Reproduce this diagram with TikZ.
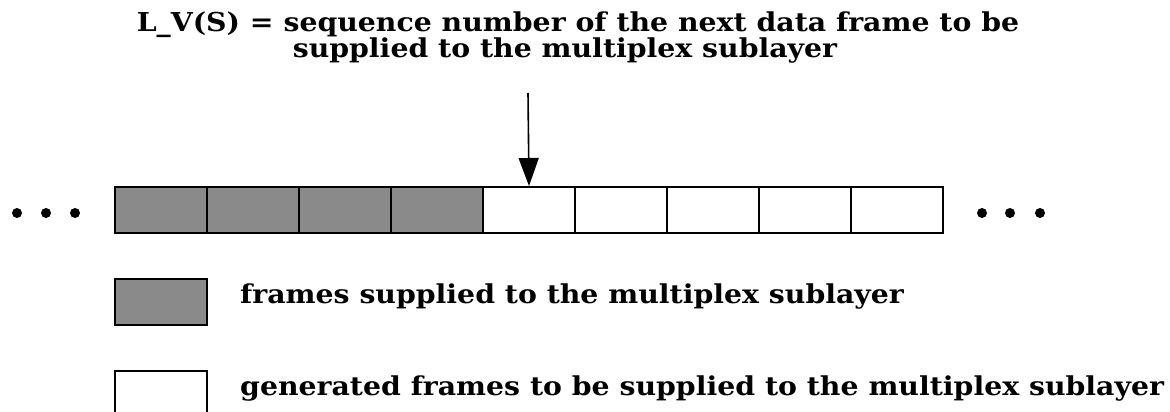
\documentclass[tikz,border=0pt]{standalone}
\usepackage{fontspec}
\setmainfont{DejaVu Serif}[FakeStretch=1.09]
\usetikzlibrary{arrows.meta}
\definecolor{cellgray}{RGB}{138,138,138}
\begin{document}
\begin{tikzpicture}[x=1pt,y=-1pt,
  cell/.style={draw=black,line width=2pt,minimum width=92pt,minimum height=46pt,inner sep=0pt,anchor=north west},
  full/.style={cell,fill=cellgray},
  empty/.style={cell,fill=white},
  dot/.style={circle,fill=black,minimum size=10pt,inner sep=0pt},
  lbl/.style={font=\fontsize{26}{28}\selectfont\bfseries,inner sep=0pt}]
\useasboundingbox (0,0) rectangle (1170,412);
\clip (0,0) rectangle (1170,412);
\fill[white] (0,0) rectangle (1170,412);
% frame row
\foreach \i in {1,...,4} \node[full] (c\i) at ({114+(\i-1)*92},186) {};
\foreach \i in {5,...,9} \node[empty] (c\i) at ({114+(\i-1)*92},186) {};
% dots
\node[dot] (dl1) at (17,213) {};
\node[dot] (dl2) at (46,213) {};
\node[dot] (dl3) at (75,213) {};
\node[dot] (dr1) at (982,213) {};
\node[dot] (dr2) at (1010,213) {};
\node[dot] (dr3) at (1040,213) {};
% title
\node[lbl,anchor=base] (t1) at (578,32) {L\_V(S) = sequence number of the next data frame to be};
\node[lbl,anchor=base] (t2) at (565,58) {supplied to the multiplex sublayer};
\coordinate (atop) at (528,93);
\draw[line width=1.6pt,-{Triangle[width=20pt,length=28pt]}] (atop) -- (c5.north);
% legend
\node[full] (g1) at (114,278) {};
\node[lbl,anchor=base west] (l1) at (240,303) {frames supplied to the multiplex sublayer};
\node[empty] (g2) at (114,370) {};
\node[lbl,anchor=base west] (l2) at (240,395) {generated frames to be supplied to the multiplex sublayer};
\end{tikzpicture}
\end{document}
